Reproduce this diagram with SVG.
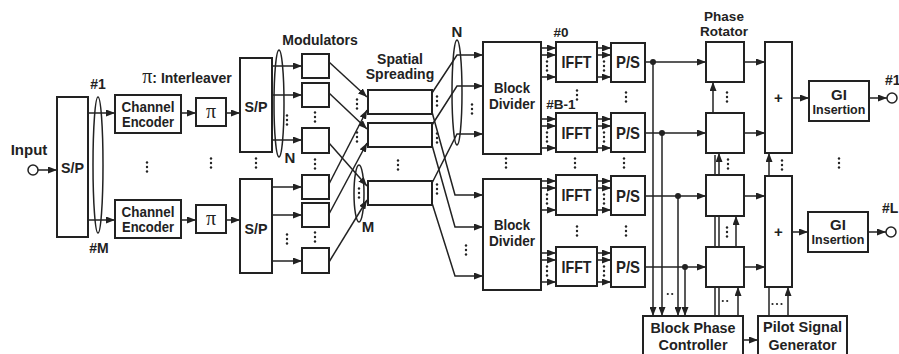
<svg xmlns="http://www.w3.org/2000/svg" xmlns:xlink="http://www.w3.org/1999/xlink" width="899" height="354" viewBox="0 0 899 354">
<style>
.box{fill:#fff;stroke:#222;stroke-width:2}
.ln{fill:none;stroke:#222;stroke-width:1.5}
.ar{marker-end:url(#ah)}
.el{fill:none;stroke:#222;stroke-width:1.5}
.jd{fill:#222}
text{font-family:"Liberation Sans",Arial,Helvetica,sans-serif;font-weight:bold;fill:#222;text-anchor:middle}
.t13{font-size:13.5px}.t14{font-size:14px}.t15{font-size:15px}.t17{font-size:17px}
.pi{font-family:"Liberation Serif","Times New Roman",serif;font-weight:normal;font-size:20px;fill:#222}
</style>
<defs>
<marker id="ah" viewBox="0 0 9 7" refX="9" refY="3.5" markerWidth="9" markerHeight="7" markerUnits="userSpaceOnUse" orient="auto"><path d="M0,0 L9,3.5 L0,7 z" fill="#222"/></marker>
<g id="v3" fill="#222"><circle cx="0" cy="-4.5" r="1.2"/><circle cx="0" cy="0" r="1.2"/><circle cx="0" cy="4.5" r="1.2"/></g>
<g id="h2" fill="#222"><circle cx="-2.2" cy="0" r="1.1"/><circle cx="2.2" cy="0" r="1.1"/></g>
<g id="h3" fill="#222"><circle cx="-4.5" cy="0" r="1.1"/><circle cx="0" cy="0" r="1.1"/><circle cx="4.5" cy="0" r="1.1"/></g>
</defs>
<rect width="899" height="354" fill="#fff"/>

<g id="connectors">
<line class="ln ar" x1="38" y1="170" x2="57" y2="170"/>
<line class="ln ar" x1="88" y1="113" x2="115" y2="113"/>
<line class="ln ar" x1="88" y1="220" x2="115" y2="220"/>
<line class="ln ar" x1="181" y1="113" x2="196" y2="113"/>
<line class="ln ar" x1="181" y1="220" x2="196" y2="220"/>
<line class="ln ar" x1="226" y1="113" x2="240" y2="113"/>
<line class="ln ar" x1="226" y1="220" x2="240" y2="220"/>
<line class="ln ar" x1="272" y1="66" x2="302" y2="66"/>
<line class="ln ar" x1="272" y1="95" x2="302" y2="95"/>
<line class="ln ar" x1="272" y1="140" x2="302" y2="140"/>
<line class="ln ar" x1="272" y1="187" x2="302" y2="187"/>
<line class="ln ar" x1="272" y1="215" x2="302" y2="215"/>
<line class="ln ar" x1="272" y1="261" x2="302" y2="261"/>
<line class="ln ar" x1="329" y1="62" x2="367" y2="97"/>
<line class="ln ar" x1="329" y1="93" x2="367" y2="129"/>
<line class="ln ar" x1="329" y1="143" x2="367" y2="186"/>
<line class="ln ar" x1="329" y1="184" x2="367" y2="110"/>
<line class="ln ar" x1="329" y1="214" x2="367" y2="143"/>
<line class="ln ar" x1="329" y1="262" x2="367" y2="200"/>
<polyline class="ln ar" points="432,93 457,55 483,55"/>
<polyline class="ln ar" points="432,125 457,86 483,86"/>
<polyline class="ln ar" points="432,183 457,134 483,134"/>
<polyline class="ln ar" points="432,112 455,195 483,195"/>
<polyline class="ln ar" points="432,145 455,227 483,227"/>
<polyline class="ln ar" points="432,203 455,276 483,276"/>
<line class="ln ar" x1="541" y1="48" x2="556" y2="48"/>
<line class="ln ar" x1="541" y1="55" x2="556" y2="55"/>
<line class="ln ar" x1="541" y1="77" x2="556" y2="77"/>
<line class="ln ar" x1="541" y1="119" x2="556" y2="119"/>
<line class="ln ar" x1="541" y1="126" x2="556" y2="126"/>
<line class="ln ar" x1="541" y1="148" x2="556" y2="148"/>
<line class="ln ar" x1="541" y1="181" x2="556" y2="181"/>
<line class="ln ar" x1="541" y1="188" x2="556" y2="188"/>
<line class="ln ar" x1="541" y1="210" x2="556" y2="210"/>
<line class="ln ar" x1="541" y1="253" x2="556" y2="253"/>
<line class="ln ar" x1="541" y1="260" x2="556" y2="260"/>
<line class="ln ar" x1="541" y1="282" x2="556" y2="282"/>
<line class="ln ar" x1="597" y1="48" x2="611" y2="48"/>
<line class="ln ar" x1="597" y1="55" x2="611" y2="55"/>
<line class="ln ar" x1="597" y1="77" x2="611" y2="77"/>
<line class="ln ar" x1="597" y1="119" x2="611" y2="119"/>
<line class="ln ar" x1="597" y1="126" x2="611" y2="126"/>
<line class="ln ar" x1="597" y1="148" x2="611" y2="148"/>
<line class="ln ar" x1="597" y1="181" x2="611" y2="181"/>
<line class="ln ar" x1="597" y1="188" x2="611" y2="188"/>
<line class="ln ar" x1="597" y1="210" x2="611" y2="210"/>
<line class="ln ar" x1="597" y1="253" x2="611" y2="253"/>
<line class="ln ar" x1="597" y1="260" x2="611" y2="260"/>
<line class="ln ar" x1="597" y1="282" x2="611" y2="282"/>
<line class="ln ar" x1="645" y1="62" x2="706" y2="62"/>
<line class="ln ar" x1="645" y1="133" x2="706" y2="133"/>
<line class="ln ar" x1="645" y1="196" x2="706" y2="196"/>
<line class="ln ar" x1="645" y1="267" x2="706" y2="267"/>
<line class="ln ar" x1="653" y1="62" x2="653" y2="316"/>
<line class="ln ar" x1="662" y1="133" x2="662" y2="316"/>
<line class="ln ar" x1="678" y1="196" x2="678" y2="316"/>
<line class="ln ar" x1="685" y1="267" x2="685" y2="316"/>
<circle class="jd" cx="653" cy="62" r="3"/>
<circle class="jd" cx="662" cy="133" r="3"/>
<circle class="jd" cx="678" cy="196" r="3"/>
<circle class="jd" cx="685" cy="267" r="3"/>
<line class="ln ar" x1="744" y1="62" x2="765" y2="62"/>
<line class="ln ar" x1="744" y1="133" x2="765" y2="133"/>
<line class="ln ar" x1="744" y1="196" x2="765" y2="196"/>
<line class="ln ar" x1="744" y1="267" x2="765" y2="267"/>
<line class="ln ar" x1="713" y1="113" x2="713" y2="82"/>
<line class="ln" x1="715" y1="175" x2="715" y2="155"/>
<line class="ln ar" x1="719" y1="175" x2="719" y2="153"/>
<line class="ln" x1="715" y1="247" x2="715" y2="216"/>
<line class="ln" x1="719" y1="247" x2="719" y2="216"/>
<line class="ln ar" x1="736" y1="247" x2="736" y2="216"/>
<line class="ln" x1="715" y1="316" x2="715" y2="287"/>
<line class="ln" x1="719" y1="316" x2="719" y2="287"/>
<line class="ln ar" x1="738" y1="316" x2="738" y2="287"/>
<line class="ln ar" x1="769" y1="176" x2="769" y2="153"/>
<line class="ln" x1="769" y1="287" x2="769" y2="316"/>
<line class="ln ar" x1="788" y1="316" x2="788" y2="287"/>
<line class="ln ar" x1="792" y1="98" x2="809" y2="98"/>
<line class="ln ar" x1="792" y1="232" x2="808" y2="232"/>
<line class="ln ar" x1="869" y1="98" x2="887" y2="98"/>
<line class="ln ar" x1="868" y1="232" x2="886" y2="232"/>
<line class="ln ar" x1="743" y1="340" x2="758" y2="340"/>
</g>

<g id="ellipses">
<ellipse class="el" cx="98" cy="165" rx="5" ry="68"/>
<ellipse class="el" cx="279" cy="103.5" rx="5" ry="53.5"/>
<ellipse class="el" cx="359" cy="193.5" rx="5" ry="28.5"/>
<ellipse class="el" cx="457" cy="92.5" rx="5" ry="52.5"/>
</g>

<g id="dots">
<use href="#v3" x="147" y="167"/><use href="#v3" x="211" y="163"/><use href="#v3" x="256" y="163"/>
<use href="#v3" x="287" y="120"/><use href="#v3" x="287" y="239"/>
<use href="#v3" x="315" y="117"/><use href="#v3" x="315" y="164"/><use href="#v3" x="315" y="237"/>
<use href="#v3" x="357" y="104"/><use href="#v3" x="357" y="137"/><use href="#v3" x="359" y="193"/>
<use href="#v3" x="398" y="165"/>
<use href="#v3" x="437" y="101"/><use href="#v3" x="437" y="138"/><use href="#v3" x="437" y="189"/>
<use href="#v3" x="472" y="109"/><use href="#v3" x="466" y="250"/>
<use href="#v3" x="506" y="163"/>
<use href="#v3" x="547" y="66"/><use href="#v3" x="547" y="137"/><use href="#v3" x="547" y="199"/><use href="#v3" x="547" y="271"/>
<use href="#v3" x="604" y="66"/><use href="#v3" x="604" y="137"/><use href="#v3" x="604" y="199"/><use href="#v3" x="604" y="271"/>
<use href="#v3" x="577" y="95"/><use href="#v3" x="626" y="97"/>
<use href="#v3" x="575" y="163"/><use href="#v3" x="624" y="163"/>
<use href="#v3" x="577" y="231"/><use href="#v3" x="626" y="231"/>
<use href="#v3" x="727" y="97"/><use href="#v3" x="728" y="164"/><use href="#v3" x="727" y="232"/>
<use href="#v3" x="782" y="165"/><use href="#v3" x="839" y="163"/>
<use href="#h2" x="670" y="294"/><use href="#h2" x="725" y="301"/><use href="#h3" x="777" y="304"/>
</g>

<g id="input"><circle cx="33" cy="170" r="5" fill="#fff" stroke="#222" stroke-width="1.5"/><text class="t15" x="29" y="155">Input</text></g>
<g id="sp1"><rect class="box" x="57" y="97" width="31" height="140"/><text class="t15" x="72.5" y="173" textLength="23" lengthAdjust="spacingAndGlyphs">S/P</text></g>
<g id="label-1"><text class="t14" x="98" y="89">#1</text></g>
<g id="label-M"><text class="t14" x="99" y="253">#M</text></g>
<g id="label-interleaver"><text class="t14" x="187" y="83"><tspan class="pi" font-size="18px">π</tspan>: Interleaver</text></g>
<g id="ce1"><rect class="box" x="115" y="95" width="66" height="38"/><text class="t14" x="148" y="112" textLength="53" lengthAdjust="spacingAndGlyphs">Channel</text><text class="t14" x="148" y="127" textLength="52" lengthAdjust="spacingAndGlyphs">Encoder</text></g>
<g id="ce2"><rect class="box" x="115" y="200" width="66" height="38"/><text class="t14" x="148" y="217" textLength="53" lengthAdjust="spacingAndGlyphs">Channel</text><text class="t14" x="148" y="232" textLength="52" lengthAdjust="spacingAndGlyphs">Encoder</text></g>
<g id="pi1"><rect class="box" x="196" y="98" width="30" height="28"/><text class="pi" x="211" y="118">π</text></g>
<g id="pi2"><rect class="box" x="196" y="205" width="30" height="28"/><text class="pi" x="211" y="225">π</text></g>
<g id="sp2a"><rect class="box" x="240" y="58" width="32" height="94"/><text class="t15" x="256" y="112" textLength="23" lengthAdjust="spacingAndGlyphs">S/P</text></g>
<g id="sp2b"><rect class="box" x="240" y="179" width="32" height="94"/><text class="t15" x="256" y="234" textLength="23" lengthAdjust="spacingAndGlyphs">S/P</text></g>
<g id="label-N1"><text class="t15" x="290" y="163">N</text></g>
<g id="label-modulators"><text class="t14" x="320" y="45">Modulators</text></g>
<g id="mod1"><rect class="box" x="302" y="54" width="27" height="24"/></g>
<g id="mod2"><rect class="box" x="302" y="83" width="27" height="24"/></g>
<g id="mod3"><rect class="box" x="302" y="128" width="27" height="25"/></g>
<g id="mod4"><rect class="box" x="302" y="175" width="27" height="24"/></g>
<g id="mod5"><rect class="box" x="302" y="203" width="27" height="24"/></g>
<g id="mod6"><rect class="box" x="302" y="248" width="27" height="25"/></g>
<g id="label-spatial"><text class="t14" x="400" y="64">Spatial</text><text class="t14" x="400" y="79">Spreading</text></g>
<g id="ss1"><rect class="box" x="368" y="90" width="64" height="24"/></g>
<g id="ss2"><rect class="box" x="368" y="123" width="64" height="24"/></g>
<g id="ss3"><rect class="box" x="368" y="181" width="64" height="24"/></g>
<g id="label-M2"><text class="t15" x="368" y="232">M</text></g>
<g id="label-N2"><text class="t15" x="457" y="37">N</text></g>
<g id="bd1"><rect class="box" x="483" y="42" width="58" height="112"/><text class="t15" x="512" y="93" textLength="36" lengthAdjust="spacingAndGlyphs">Block</text><text class="t15" x="512" y="109" textLength="46" lengthAdjust="spacingAndGlyphs">Divider</text></g>
<g id="bd2"><rect class="box" x="483" y="179" width="58" height="111"/><text class="t15" x="512" y="230" textLength="36" lengthAdjust="spacingAndGlyphs">Block</text><text class="t15" x="512" y="246" textLength="46" lengthAdjust="spacingAndGlyphs">Divider</text></g>
<g id="label-0"><text class="t13" x="561" y="37">#0</text></g>
<g id="label-B1"><text class="t13" x="561" y="109">#B-1</text></g>
<g id="ifft0"><rect class="box" x="556" y="42" width="41" height="40"/><text class="t17" x="576.5" y="68" textLength="30" lengthAdjust="spacingAndGlyphs">IFFT</text></g>
<g id="ifft1"><rect class="box" x="556" y="113" width="41" height="39"/><text class="t17" x="576.5" y="139" textLength="30" lengthAdjust="spacingAndGlyphs">IFFT</text></g>
<g id="ifft2"><rect class="box" x="556" y="175" width="41" height="40"/><text class="t17" x="576.5" y="201" textLength="30" lengthAdjust="spacingAndGlyphs">IFFT</text></g>
<g id="ifft3"><rect class="box" x="556" y="247" width="41" height="39"/><text class="t17" x="576.5" y="273" textLength="30" lengthAdjust="spacingAndGlyphs">IFFT</text></g>
<g id="ps0"><rect class="box" x="611" y="43" width="34" height="39"/><text class="t17" x="628" y="68" textLength="24" lengthAdjust="spacingAndGlyphs">P/S</text></g>
<g id="ps1"><rect class="box" x="611" y="113" width="34" height="39"/><text class="t17" x="628" y="139" textLength="24" lengthAdjust="spacingAndGlyphs">P/S</text></g>
<g id="ps2"><rect class="box" x="611" y="176" width="34" height="39"/><text class="t17" x="628" y="202" textLength="24" lengthAdjust="spacingAndGlyphs">P/S</text></g>
<g id="ps3"><rect class="box" x="611" y="247" width="34" height="40"/><text class="t17" x="628" y="273" textLength="24" lengthAdjust="spacingAndGlyphs">P/S</text></g>
<g id="label-rotator"><text class="t13" x="724" y="21">Phase</text><text class="t13" x="724" y="36">Rotator</text></g>
<g id="pr1"><rect class="box" x="706" y="42" width="38" height="40"/></g>
<g id="pr2"><rect class="box" x="706" y="113" width="38" height="40"/></g>
<g id="pr3"><rect class="box" x="706" y="175" width="38" height="41"/></g>
<g id="pr4"><rect class="box" x="706" y="247" width="38" height="40"/></g>
<g id="add1"><rect class="box" x="765" y="42" width="27" height="111"/><text class="t15" x="778.5" y="103">+</text></g>
<g id="add2"><rect class="box" x="765" y="176" width="27" height="111"/><text class="t15" x="778.5" y="237">+</text></g>
<g id="gi1"><rect class="box" x="809" y="81" width="60" height="40"/><text class="t15" x="839" y="100">GI</text><text x="839" y="114" font-size="12.5px">Insertion</text></g>
<g id="gi2"><rect class="box" x="808" y="212" width="60" height="40"/><text class="t15" x="838" y="230">GI</text><text x="838" y="244" font-size="12.5px">Insertion</text></g>
<g id="out1"><circle cx="892" cy="98" r="5" fill="#fff" stroke="#222" stroke-width="1.5"/><text class="t14" x="885" y="85" style="text-anchor:start">#1</text></g>
<g id="outL"><circle cx="891" cy="232" r="5" fill="#fff" stroke="#222" stroke-width="1.5"/><text class="t14" x="882" y="213" style="text-anchor:start">#L</text></g>
<g id="bpc"><rect class="box" x="643" y="316" width="100" height="45"/><text x="693" y="333" font-size="14px" textLength="85" lengthAdjust="spacingAndGlyphs">Block Phase</text><text x="693" y="350" font-size="14px" textLength="69" lengthAdjust="spacingAndGlyphs">Controller</text></g>
<g id="psg"><rect class="box" x="758" y="316" width="89" height="45"/><text x="802.5" y="332" font-size="14px" textLength="79" lengthAdjust="spacingAndGlyphs">Pilot Signal</text><text x="802.5" y="350" font-size="14px" textLength="68" lengthAdjust="spacingAndGlyphs">Generator</text></g>
</svg>
